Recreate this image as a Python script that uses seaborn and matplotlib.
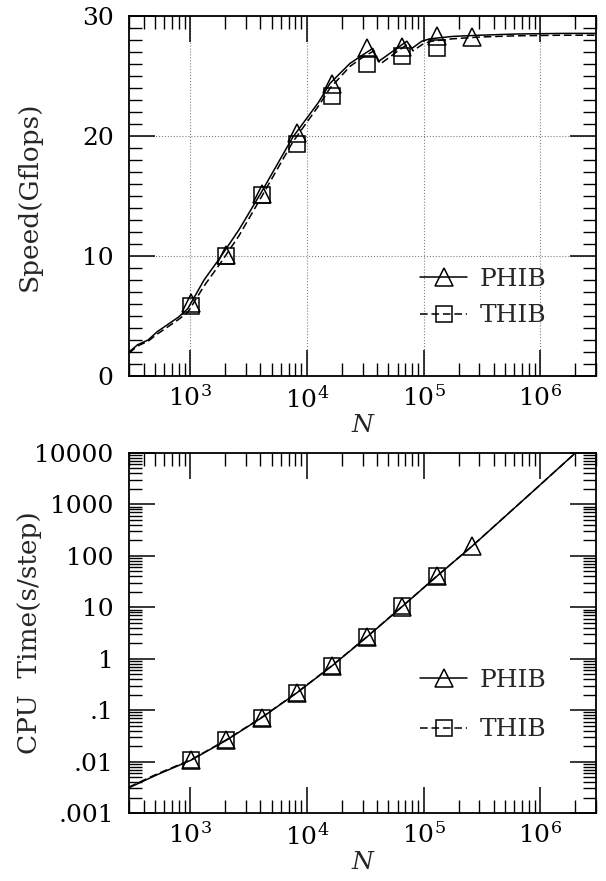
import numpy as np
import pandas as pd
import matplotlib
matplotlib.use("Agg")
import matplotlib.pyplot as plt
from matplotlib.lines import Line2D
from matplotlib.ticker import MultipleLocator, LogLocator, FuncFormatter, NullFormatter
import seaborn as sns

# ---- speed curves (Gflops) ----
curve_n_phib = [300, 355, 437, 525, 646, 794, 955, 1318, 1820, 2630, 4074, 7586,
                12589, 15849, 23442, 29512, 36728, 41020, 53456, 71945, 79433,
                96605, 113763, 177828, 305492, 630957, 1584893, 3000000]
speed_phib = [2.0, 2.6, 3.0, 3.7, 4.3, 4.9, 5.6, 8.0, 9.9, 12.2, 15.3, 19.9,
              22.8, 24.4, 26.05, 26.7, 27.3, 26.2, 27.0, 27.9, 27.3,
              27.9, 28.1, 28.3, 28.4, 28.5, 28.55, 28.55]

curve_n_thib = [300, 355, 437, 525, 646, 794, 955, 1318, 1820, 2630, 4074, 7586,
                12589, 15849, 23442, 29512, 37584, 42658, 54954, 74131, 81283,
                100000, 117490, 177828, 305492, 630957, 1584893, 3000000]
speed_thib = [1.9, 2.5, 2.9, 3.5, 4.1, 4.7, 5.3, 7.5, 9.4, 11.7, 14.9, 19.5,
              22.5, 24.0, 25.8, 26.5, 27.1, 26.0, 26.8, 27.7, 27.1,
              27.7, 27.9, 28.1, 28.25, 28.35, 28.4, 28.4]

# ---- measured points ----
pts_n_phib = [1024, 2048, 4096, 8192, 16384, 32768, 65536, 131072, 262144]
pts_speed_phib = [6.05, 10.1, 15.2, 20.25, 24.3, 27.3, 27.4, 28.3, 28.25]
pts_n_thib = [1024, 2048, 4096, 8192, 16384, 32768, 65536, 131072]
pts_speed_thib = [5.85, 9.97, 15.1, 19.3, 23.35, 26.0, 26.7, 27.3]

# ---- CPU time per step (s) ----
time_curve_n = [300, 518, 1024, 2048, 4096, 8192, 16384, 32768, 65536,
                131072, 262144, 870964, 1995262, 3000000]
time_phib = [0.0031, 0.0055, 0.0107, 0.026, 0.071, 0.216, 0.72, 2.65, 10.3,
             40.8, 156, 1820, 10000, 23000]
time_thib = [0.0032, 0.0057, 0.0109, 0.0265, 0.072, 0.218, 0.73, 2.68, 10.4,
             41.0, 157, 1820, 10000, 23000]

pts_time_phib = [0.0107, 0.026, 0.070, 0.213, 0.71, 2.62, 10.2, 40.5, 156]
pts_time_thib = [0.0107, 0.026, 0.071, 0.216, 0.72, 2.70, 10.4, 41.0]

time_ticks = [0.001, 0.01, 0.1, 1, 10, 100, 1000, 10000]
time_tick_labels = [".001", ".01", ".1", "1", "10", "100", "1000", "10000"]
speed_ticks = [0, 10, 20, 30]

sns.set_style("ticks")
plt.rcParams["font.family"] = ["DejaVu Serif"]
plt.rcParams["mathtext.fontset"] = "dejavuserif"
plt.rcParams["axes.linewidth"] = 1.3

fig = plt.figure(figsize=(6.06, 8.81), dpi=100)
ax1 = fig.add_axes([129 / 606, 1 - 376 / 881, 467 / 606, 360 / 881])
ax2 = fig.add_axes([129 / 606, 1 - 813 / 881, 467 / 606, 360 / 881])

line_kw = dict(color="black", linewidth=1.1, legend=False)
dash = (5, 2.5)

# top panel: speed
sns.lineplot(x=curve_n_phib, y=speed_phib, ax=ax1, **line_kw)
sns.lineplot(x=curve_n_thib, y=speed_thib, ax=ax1, **line_kw)
ax1.lines[-1].set_dashes(dash)
ax1.plot(pts_n_phib, pts_speed_phib, ls="none", marker="^", ms=12.5,
         mfc="none", mec="black", mew=1.1)
ax1.plot(pts_n_thib, pts_speed_thib, ls="none", marker="s", ms=11,
         mfc="none", mec="black", mew=1.1)

# bottom panel: CPU time
sns.lineplot(x=time_curve_n, y=time_phib, ax=ax2, **line_kw)
sns.lineplot(x=time_curve_n, y=time_thib, ax=ax2, **line_kw)
ax2.lines[-1].set_dashes(dash)
ax2.plot(pts_n_phib, pts_time_phib, ls="none", marker="^", ms=12.5,
         mfc="none", mec="black", mew=1.1)
ax2.plot(pts_n_thib, pts_time_thib, ls="none", marker="s", ms=11,
         mfc="none", mec="black", mew=1.1)

for ax in (ax1, ax2):
    ax.set_xscale("log")
    ax.set_xlim(300, 3e6)
    ax.xaxis.set_major_locator(LogLocator(base=10, numticks=20))
    ax.xaxis.set_minor_locator(LogLocator(base=10, subs=np.arange(2, 10), numticks=50))
    ax.xaxis.set_minor_formatter(NullFormatter())
    ax.tick_params(which="both", direction="in", top=True, right=True,
                   labelsize=18, colors="black")
    ax.tick_params(which="major", length=19, width=1.1, pad=7)
    ax.tick_params(which="minor", length=9.5, width=1.0)
    ax.tick_params(axis="y", which="major", pad=11)
    ax.set_xlabel("N", fontsize=18, style="italic", labelpad=1)
    for s in ax.spines.values():
        s.set_color("black")

ax1.set_ylim(0, 30)
ax1.set_yticks(speed_ticks)
ax1.yaxis.set_minor_locator(MultipleLocator(1))
ax1.set_ylabel("Speed(Gflops)", fontsize=19)
ax1.grid(True, which="major", ls=":", color="gray", lw=0.8)

ax2.set_yscale("log")
ax2.set_ylim(1e-3, 1e4)
ax2.set_yticks(time_ticks)
ax2.yaxis.set_minor_locator(LogLocator(base=10, subs=np.arange(2, 10), numticks=50))
ax2.yaxis.set_minor_formatter(NullFormatter())
ax2.yaxis.set_major_formatter(FuncFormatter(
    lambda v, p: time_tick_labels[time_ticks.index(min(time_ticks, key=lambda t: abs(np.log10(t) - np.log10(v))))]))
ax2.set_ylabel("CPU  Time(s/step)", fontsize=19)
ax2.grid(False)

# both y labels sit in the same column left of the tick labels
ax1.yaxis.set_label_coords(-0.186, 0.5)
ax2.yaxis.set_label_coords(-0.186, 0.5)

handles = [
    Line2D([], [], color="black", lw=1.1, marker="^", ms=12.5, mfc="none", mew=1.1),
    Line2D([], [], color="black", lw=1.1, ls=(0, dash), marker="s", ms=11, mfc="none", mew=1.1),
]
labels = ["PHIB", "THIB"]
leg_kw = dict(frameon=False, fontsize=18, handlelength=1.9, handletextpad=0.5,
              borderpad=0, borderaxespad=0, numpoints=1, loc="center left")
ax1.legend(handles, labels, bbox_to_anchor=(0.623, 0.218), labelspacing=0.55, **leg_kw)
ax2.legend(handles, labels, bbox_to_anchor=(0.623, 0.299), labelspacing=1.05, **leg_kw)

fig.savefig("out.png", dpi=100)
